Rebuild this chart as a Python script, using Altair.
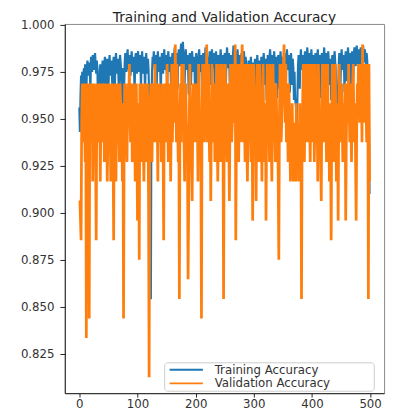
import altair as alt
import pandas as pd

TITLE = "Training and Validation Accuracy"
SERIES = ["Training Accuracy", "Validation Accuracy"]
COLORS = ["#1f77b4", "#ff7f0e"]
X_TICKS = [0, 100, 200, 300, 400, 500]
Y_TICKS = [0.825, 0.850, 0.875, 0.900, 0.925, 0.950, 0.975, 1.000]
VAL_SAMPLES = 96  # validation accuracy moves in steps of 1/96

# training accuracy, in thousandths, epochs 0-499
train_000 = [956, 943, 962, 973, 966, 975, 961, 974, 977, 966, 979, 975, 961, 978, 981, 976, 973, 980, 977, 963,
             983, 979, 975, 984, 980, 976, 982, 985, 979, 974, 981, 977, 961, 949, 966, 975, 979, 966, 961, 976,
             981, 977, 963, 979, 983, 976, 961, 978, 982, 975]
train_050 = [963, 979, 984, 977, 973, 981, 976, 960, 978, 983, 979, 966, 980, 985, 978, 974, 982, 976, 961, 979,
             984, 980, 975, 960, 977, 960, 939, 966, 980, 985, 979, 975, 983, 987, 980, 976, 984, 978, 973, 981,
             986, 979, 975, 983, 977, 963, 980, 985, 978, 974]
train_100 = [982, 986, 979, 975, 984, 980, 966, 981, 986, 978, 974, 983, 979, 963, 980, 985, 978, 974, 982, 976,
             962, 958, 940, 854, 958, 975, 983, 979, 986, 981, 976, 984, 979, 966, 981, 986, 980, 975, 983, 978,
             961, 979, 985, 980, 974, 982, 987, 980, 976, 984]
train_150 = [979, 966, 982, 986, 980, 975, 983, 977, 961, 979, 985, 981, 976, 984, 988, 982, 977, 985, 980, 966,
             982, 987, 983, 978, 986, 990, 984, 979, 991, 985, 980, 968, 982, 987, 981, 976, 984, 979, 963, 980,
             985, 979, 968, 982, 986, 980, 975, 983, 978, 964]
train_200 = [980, 985, 979, 960, 977, 983, 987, 981, 975, 984, 978, 961, 979, 985, 981, 968, 983, 988, 982, 976,
             958, 975, 983, 979, 986, 980, 968, 982, 987, 981, 977, 985, 979, 964, 981, 986, 980, 960, 978, 984,
             979, 966, 982, 987, 981, 976, 984, 978, 963, 980]
train_250 = [985, 979, 968, 983, 988, 982, 977, 985, 979, 959, 978, 984, 980, 970, 983, 989, 983, 978, 986, 981,
             969, 983, 987, 981, 976, 984, 979, 964, 980, 985, 979, 967, 982, 986, 980, 975, 983, 978, 961, 958,
             975, 981, 977, 962, 978, 983, 977, 963, 980, 976]
train_300 = [960, 977, 982, 976, 961, 979, 984, 978, 966, 981, 976, 958, 977, 983, 979, 964, 980, 985, 979, 968,
             982, 977, 960, 978, 984, 980, 970, 983, 987, 981, 976, 984, 979, 964, 980, 986, 980, 969, 983, 978,
             961, 979, 984, 978, 966, 981, 986, 980, 970, 983]
train_350 = [978, 963, 980, 985, 979, 968, 982, 987, 981, 976, 984, 979, 964, 980, 985, 979, 968, 982, 977, 960,
             975, 961, 958, 955, 948, 962, 978, 984, 979, 966, 982, 987, 981, 976, 984, 979, 964, 981, 986, 980,
             969, 983, 988, 982, 977, 985, 980, 966, 982, 987]
train_400 = [981, 970, 984, 979, 963, 980, 985, 979, 968, 982, 987, 981, 976, 984, 978, 961, 979, 985, 980, 970,
             983, 988, 982, 977, 985, 979, 964, 981, 986, 980, 968, 982, 977, 960, 978, 984, 979, 966, 982, 986,
             980, 975, 962, 958, 958, 961, 979, 985, 980, 968]
train_450 = [982, 987, 981, 976, 984, 979, 964, 980, 986, 981, 970, 983, 988, 982, 977, 985, 979, 966, 981, 986,
             980, 972, 984, 988, 983, 978, 986, 989, 984, 979, 987, 983, 977, 985, 988, 982, 978, 986, 989, 984,
             980, 987, 983, 978, 985, 981, 970, 958, 948, 910]

# validation accuracy, as correct predictions out of 96, epochs 0-499
val_000 = [87, 87, 86, 85, 91, 93, 90, 92, 93, 91, 89, 93, 80, 92, 93, 91, 90, 81, 93, 92,
           90, 91, 93, 88, 92, 90, 93, 91, 89, 85, 92, 93, 90, 91, 93, 92, 88, 91, 93, 90,
           92, 91, 93, 89, 90, 92, 93, 91, 88, 90]
val_050 = [92, 93, 90, 91, 88, 92, 93, 91, 90, 85, 92, 93, 90, 88, 91, 93, 92, 90, 91, 89,
           93, 92, 90, 91, 88, 92, 81, 90, 93, 91, 92, 90, 89, 93, 91, 92, 94, 91, 90, 93,
           92, 89, 91, 93, 90, 92, 88, 91, 93, 90]
val_100 = [86, 91, 92, 84, 93, 90, 91, 89, 93, 92, 90, 88, 91, 93, 92, 89, 90, 93, 91, 87,
           78, 90, 92, 93, 91, 89, 92, 93, 90, 91, 94, 92, 90, 93, 91, 88, 92, 93, 90, 91,
           92, 89, 93, 91, 90, 85, 92, 93, 91, 90]
val_150 = [92, 94, 91, 89, 90, 93, 92, 88, 91, 94, 90, 92, 94, 93, 91, 95, 92, 90, 94, 91,
           89, 92, 82, 91, 93, 90, 94, 92, 91, 94, 90, 88, 92, 93, 91, 90, 89, 83, 87, 91,
           94, 92, 90, 89, 87, 91, 93, 92, 90, 91]
val_200 = [93, 92, 90, 91, 88, 94, 92, 90, 91, 89, 81, 92, 94, 91, 94, 90, 92, 93, 91, 95,
           90, 92, 94, 91, 89, 92, 87, 91, 94, 90, 92, 91, 93, 89, 90, 92, 94, 91, 88, 90,
           92, 94, 91, 89, 92, 90, 94, 91, 82, 90]
val_250 = [92, 94, 91, 90, 89, 93, 92, 90, 87, 91, 94, 92, 90, 91, 94, 93, 91, 92, 95, 85,
           90, 92, 94, 91, 89, 92, 94, 90, 91, 94, 95, 92, 90, 94, 91, 89, 92, 94, 90, 88,
           91, 94, 92, 90, 91, 89, 94, 92, 86, 91]
val_300 = [94, 92, 90, 91, 87, 92, 94, 91, 90, 89, 94, 92, 91, 90, 88, 92, 94, 91, 90, 89,
           92, 86, 91, 94, 92, 90, 91, 89, 94, 92, 90, 88, 91, 94, 92, 90, 91, 89, 93, 92,
           90, 91, 88, 84, 91, 94, 92, 90, 91, 94]
val_350 = [92, 94, 95, 92, 91, 94, 90, 92, 91, 89, 93, 92, 90, 88, 91, 89, 92, 90, 88, 91,
           89, 90, 88, 92, 90, 89, 91, 88, 90, 92, 89, 91, 82, 90, 92, 94, 91, 89, 92, 94,
           90, 91, 94, 92, 90, 94, 91, 89, 92, 94]
val_400 = [91, 90, 94, 92, 89, 91, 94, 90, 92, 91, 88, 94, 92, 90, 91, 89, 87, 92, 94, 91,
           90, 92, 94, 93, 91, 89, 92, 94, 90, 91, 88, 92, 90, 85, 91, 94, 92, 89, 90, 92,
           94, 91, 88, 90, 92, 86, 91, 94, 92, 90]
val_450 = [92, 93, 91, 89, 92, 90, 91, 93, 86, 90, 92, 93, 91, 94, 92, 90, 93, 91, 89, 92,
           93, 94, 91, 90, 92, 89, 86, 91, 93, 92, 94, 93, 91, 92, 94, 93, 90, 95, 92, 94,
           93, 91, 94, 92, 90, 93, 94, 82, 94, 88]

train = train_000 + train_050 + train_100 + train_150 + train_200 + train_250 + train_300 + train_350 + train_400 + train_450
val = val_000 + val_050 + val_100 + val_150 + val_200 + val_250 + val_300 + val_350 + val_400 + val_450

rows = [{"epoch": i, "acc": v / 1000.0, "series": SERIES[0]} for i, v in enumerate(train)]
rows += [{"epoch": i, "acc": v / VAL_SAMPLES, "series": SERIES[1]} for i, v in enumerate(val)]
df = pd.DataFrame(rows)

FONT = "DejaVu Sans"
axis_style = dict(title=None, grid=False, labelFontSize=12, labelFont=FONT, labelColor="#333",
                  domainColor="#222", tickColor="#222", domainWidth=1, tickWidth=1)

x = alt.X("epoch:Q", scale=alt.Scale(domain=[-25, 524], nice=False, zero=False),
          axis=alt.Axis(values=X_TICKS, tickSize=4, labelPadding=2, **axis_style))
y = alt.Y("acc:Q", scale=alt.Scale(domain=[0.804, 1.0005], nice=False, zero=False),
          axis=alt.Axis(values=Y_TICKS, format=".3f", tickSize=5, labelPadding=6, **axis_style))
color = alt.Color("series:N", scale=alt.Scale(domain=SERIES, range=COLORS), legend=None)

base = alt.Chart(df).encode(x=x, y=y, color=color)
train_line = base.transform_filter(alt.datum.series == SERIES[0]).mark_line(strokeWidth=2.2)
val_line = base.transform_filter(alt.datum.series == SERIES[1]).mark_line(strokeWidth=2.8)

title_text = alt.Chart(pd.DataFrame({"t": [TITLE]})).mark_text(
    fontSize=14, font=FONT, color="#222", baseline="alphabetic", align="center"
).encode(text="t:N", x=alt.value(163), y=alt.value(-2))

# legend box (lower right), drawn by hand to match the compact matplotlib legend
one = pd.DataFrame({"k": [0]})
legend_box = alt.Chart(one).mark_rect(fill="white", stroke="#cccccc", strokeWidth=1, cornerRadius=3).encode(
    x=alt.value(102), x2=alt.value(316), y=alt.value(346), y2=alt.value(375))
legend_parts = [legend_box]
for i, (name, col) in enumerate(zip(SERIES, COLORS)):
    ly = 353 + i * 14
    legend_parts.append(alt.Chart(one).mark_rule(color=col, strokeWidth=2).encode(
        x=alt.value(107), x2=alt.value(141), y=alt.value(ly)))
    legend_parts.append(alt.Chart(pd.DataFrame({"label": [name]})).mark_text(
        fontSize=12, font=FONT, color="#333", align="left", baseline="middle").encode(
        text="label:N", x=alt.value(153), y=alt.value(ly)))

chart = alt.layer(train_line, val_line, title_text, *legend_parts).properties(
    width=326, height=377,
    padding={"left": 58, "top": 12, "right": 4, "bottom": 18},
    autosize=alt.AutoSizeParams(type="none"),
).configure_view(stroke="#888", strokeWidth=1)

chart.save("out.html", embed_options={"renderer": "svg", "actions": False})
